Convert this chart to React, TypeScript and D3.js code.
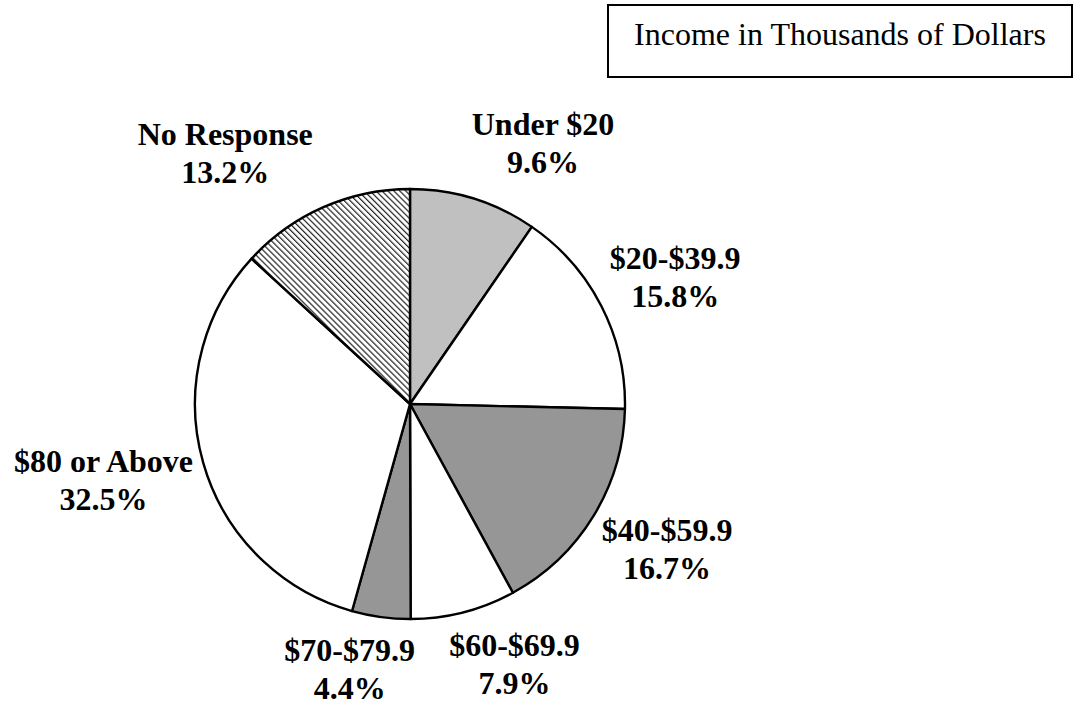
import { useEffect, useRef } from 'react';
import * as d3 from 'd3';

// income brackets, clockwise from 12 o'clock
const categories = ['Under $20', '$20-$39.9', '$40-$59.9', '$60-$69.9', '$70-$79.9', '$80 or Above', 'No Response'];
const shares = [9.6, 15.8, 16.7, 7.9, 4.4, 32.5, 13.2];
const fills = ['#c0c0c0', '#ffffff', '#969696', '#ffffff', '#969696', '#ffffff', 'url(#hatch)'];
// label nudges from the slice centroid (at r = 300)
const labelNudge = [[44, 26], [-2, 10], [1, -10], [30, -30], [-20, -31], [-18, -5], [-64, 25]];
const title = 'Income in Thousands of Dollars';

export default function App() {
  const svgRef = useRef<SVGSVGElement | null>(null);
  const width = 1074, height = 706;
  const cx = 410, cy = 404, radius = 215;

  useEffect(() => {
    if (!svgRef.current) return;
    const svg = d3.select(svgRef.current);
    svg.attr('width', width).attr('height', height).selectAll('*').remove();

    // diagonal hatch for "No Response"
    const pat = svg.append('defs').append('pattern')
      .attr('id', 'hatch')
      .attr('patternUnits', 'userSpaceOnUse')
      .attr('width', 4.2).attr('height', 4.2)
      .attr('patternTransform', 'rotate(-45)');
    pat.append('rect').attr('width', 4.2).attr('height', 4.2).attr('fill', '#fff');
    pat.append('line').attr('x1', 0).attr('y1', 0).attr('x2', 0).attr('y2', 4.2)
      .attr('stroke', '#222').attr('stroke-width', 2.4);

    const data = categories.map((c, i) => ({ label: c, value: shares[i], fill: fills[i], nudge: labelNudge[i] }));
    const pie = d3.pie<any>().value((d) => d.value).sort(null);
    const arcs = pie(data);
    const arc = d3.arc<any>().innerRadius(0).outerRadius(radius);
    const labelArc = d3.arc<any>().innerRadius(300).outerRadius(300);

    const g = svg.append('g').attr('transform', `translate(${cx},${cy})`);
    g.selectAll('path.slice').data(arcs).enter().append('path')
      .attr('class', 'slice')
      .attr('d', arc)
      .attr('fill', (d) => d.data.fill)
      .attr('stroke', '#000')
      .attr('stroke-width', 2.4)
      .attr('stroke-linejoin', 'round');

    const fs = 32;
    arcs.forEach((a) => {
      const [x0, y0] = labelArc.centroid(a);
      const x = x0 + a.data.nudge[0];
      const y = y0 + a.data.nudge[1];
      const t = g.append('text')
        .attr('text-anchor', 'middle')
        .attr('font-family', '"Liberation Serif", "Times New Roman", serif')
        .attr('font-weight', 700)
        .attr('font-size', fs)
        .attr('fill', '#000');
      t.append('tspan').attr('x', x).attr('y', y - 9).text(a.data.label);
      t.append('tspan').attr('x', x).attr('y', y + 29).text(`${a.data.value.toFixed(1)}%`);
    });

    // title box, top right
    svg.append('rect')
      .attr('x', 608).attr('y', 5).attr('width', 464).attr('height', 72)
      .attr('fill', '#fff').attr('stroke', '#000').attr('stroke-width', 2);
    svg.append('text')
      .attr('x', 840).attr('y', 45)
      .attr('text-anchor', 'middle')
      .attr('font-family', '"Liberation Serif", "Times New Roman", serif')
      .attr('font-size', 32)
      .attr('fill', '#000')
      .text(title);
  }, []);

  return <svg ref={svgRef} style={{ position: 'absolute', left: 0, top: 0, display: 'block', background: '#fff' }} />;
}
